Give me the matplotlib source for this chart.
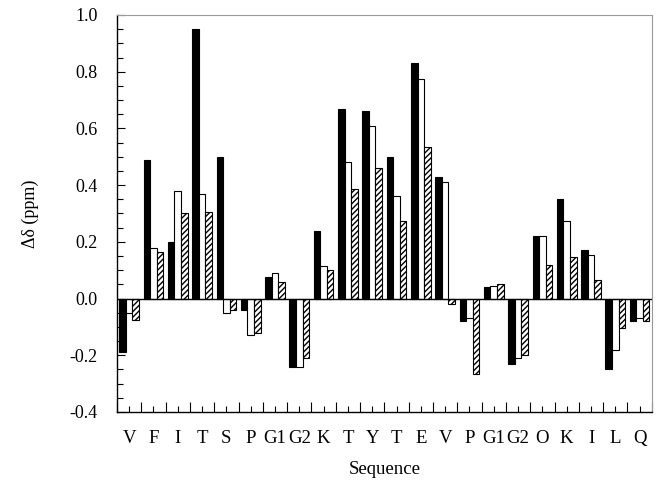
import numpy as np
import matplotlib
matplotlib.use("Agg")
import matplotlib.pyplot as plt

# residues along the sequence
residues = ["V", "F", "I", "T", "S", "P", "G1", "G2", "K", "T", "Y",
            "T", "E", "V", "P", "G1", "G2", "O", "K", "I", "L", "Q"]

# chemical shift differences (ppm)
solid = [-0.19, 0.49, 0.20, 0.95, 0.50, -0.04, 0.075, -0.24, 0.24, 0.67, 0.66,
         0.50, 0.83, 0.43, -0.08, 0.04, -0.23, 0.22, 0.35, 0.17, -0.25, -0.08]
open_ = [-0.05, 0.18, 0.38, 0.37, -0.05, -0.13, 0.09, -0.24, 0.115, 0.48, 0.61,
         0.36, 0.775, 0.41, -0.07, 0.045, -0.21, 0.22, 0.275, 0.155, -0.18, -0.07]
hatched = [-0.075, 0.165, 0.30, 0.305, -0.04, -0.12, 0.06, -0.21, 0.10, 0.385, 0.46,
           0.275, 0.535, -0.02, -0.265, 0.05, -0.20, 0.12, 0.145, 0.065, -0.105, -0.08]

x = np.arange(len(residues))
w = 0.27
serif = "Liberation Serif"

fig = plt.figure(figsize=(6.59, 4.83), dpi=100)
ax = fig.add_axes([0.1775, 0.147, 0.8115, 0.822])

ax.bar(x - w, solid, w, color="black", edgecolor="black", linewidth=0.8)
ax.bar(x, open_, w, color="white", edgecolor="black", linewidth=0.8)
ax.bar(x + w, hatched, w, color="white", edgecolor="black", linewidth=0.8, hatch="//////")
ax.axhline(0, color="black", linewidth=1.0)

ax.set_xlim(-0.5, len(residues) - 0.5)
ax.set_ylim(-0.4, 1.0)

# y axis: labels every 0.2, minor every 0.05, ticks inside
yt = np.arange(-0.4, 1.01, 0.2)
ax.set_yticks(yt)
ax.set_yticklabels(["%.1f" % v for v in yt], family=serif, fontsize=13)
ax.set_yticks(np.arange(-0.4, 1.001, 0.05), minor=True)
ax.tick_params(axis="y", which="both", direction="in", length=4, width=0.8, pad=14)
ax.tick_params(axis="y", which="major", length=6)

# x axis: labels at centres, longer ticks at boundaries
ax.set_xticks(x)
ax.set_xticklabels(residues, family=serif, fontsize=13.5)
ax.set_xticks(np.arange(-0.5, len(residues)), minor=True)
ax.tick_params(axis="x", which="major", direction="in", length=4, width=0.8, pad=13)
ax.tick_params(axis="x", which="minor", direction="in", length=7, width=0.8)

for s in ["top", "right"]:
    ax.spines[s].set_color("#999999")
for s in ["left", "bottom"]:
    ax.spines[s].set_linewidth(1.0)

ax.set_xlabel("Sequence", family=serif, fontsize=13.5, labelpad=10)
ax.set_ylabel("Δδ (ppm)", family=serif, fontsize=13, labelpad=22)

fig.savefig("out.png", dpi=100)
